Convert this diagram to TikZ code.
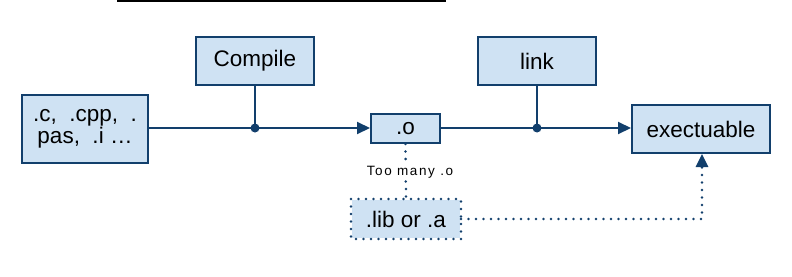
\documentclass[tikz,border=0pt]{standalone}
\usepackage{fontspec}
\setmainfont{Liberation Sans}
\newfontfamily\spacedfont[LetterSpace=12]{Liberation Sans}
\usetikzlibrary{arrows.meta}
\definecolor{boxfill}{HTML}{CFE2F3}
\definecolor{navy}{HTML}{123F6C}
\tikzset{
  stagebox/.style={draw=navy, fill=boxfill, line width=2pt, rectangle,
    inner sep=0pt, align=center, font=\fontsize{22.5}{26}\selectfont},
  flow/.style={draw=navy, line width=2pt, -{Triangle[length=13pt,width=12pt]}},
  feed/.style={draw=navy, line width=2pt},
  optional/.style={draw=navy, line width=2.8pt, dash pattern=on 0pt off 7.5pt, line cap=round},
  joint/.style={circle, fill=navy, inner sep=0pt, minimum size=9pt},
}
\begin{document}
\begin{tikzpicture}[x=1pt, y=-1pt]
  \useasboundingbox (0,0) rectangle (792,276);
  % rule at the top
  \draw[black, line width=2pt] (117,1) -- (446,1);

  % boxes
  \node[stagebox, minimum width=126pt, minimum height=68pt] (src) at (85,129) {.c,\ \ .cpp,\ \ .\\[-4pt]pas,\ \ .i \dots};
  \node[stagebox, minimum width=118pt, minimum height=48pt] (compile) at (255,61) {Compile};
  \node[stagebox, minimum width=69pt, minimum height=29pt] (obj) at (405.5,128.5) {.o};
  \node[stagebox, minimum width=118pt, minimum height=48pt] (link) at (537,61) {link};
  \node[stagebox, minimum width=138pt, minimum height=48pt] (exe) at (701,129) {exectuable};
  \node[stagebox, draw=none, minimum width=108pt, minimum height=38pt] (lib) at (406,219) {.lib or .a};
  \draw[optional] (lib.north west) rectangle (lib.south east);

  % junction points
  \coordinate (j1) at (255,128);
  \coordinate (j2) at (537,128);
  \coordinate (bend) at (702,219);

  % main flow
  \draw[flow] (src.east |- j1) -- (obj.west |- j1);
  \draw[flow] (obj.east |- j2) -- (exe.west |- j2);
  \draw[feed] (compile.south) -- (j1);
  \draw[feed] (link.south) -- (j2);
  \node[joint] at (j1) {};
  \node[joint] at (j2) {};

  % library path
  \draw[optional] (obj.south) -- (lib.north);
  \node[fill=white, inner sep=1.5pt, font=\spacedfont\fontsize{13.5}{16}\selectfont] (note) at (410,172) {Too many .o};
  \draw[optional, -{Triangle[length=13pt,width=12pt]}] (lib.east) -- (bend) -- (bend |- exe.south);
\end{tikzpicture}
\end{document}
